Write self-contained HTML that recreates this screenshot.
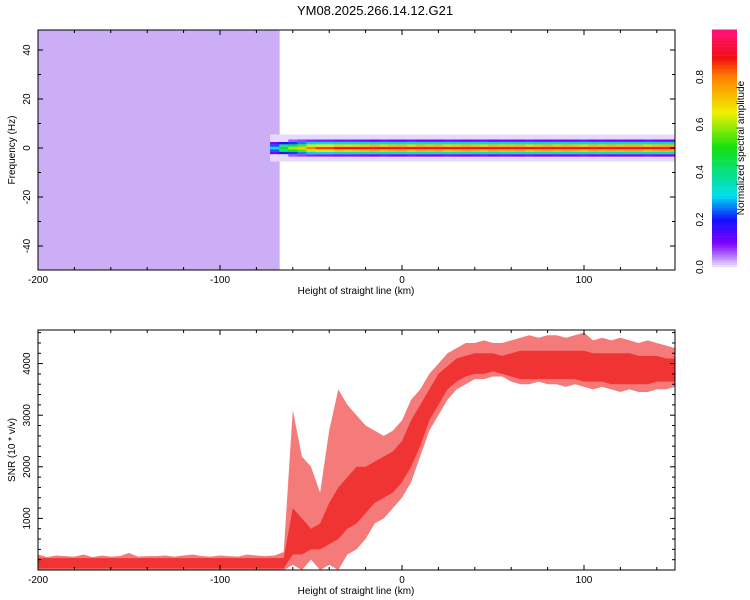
<!DOCTYPE html>
<html><head><meta charset="utf-8"><style>
body{margin:0;background:#fff;}
svg{display:block;font-family:"Liberation Sans",sans-serif;}
</style></head><body>
<svg id="c" width="750" height="600" xmlns="http://www.w3.org/2000/svg">
<text x="375" y="15" font-size="13" text-anchor="middle">YM08.2025.266.14.12.G21</text>
<g id="spec"></g>
<g id="snr"></g>
<g id="cbar"></g>
<g id="axes"></g>
</svg>
<script>
// ---- data ----
const xStart = -200, xStep = 5;
const snrHigh = [300,250,280,270,260,300,250,280,260,270,330,260,270,270,280,260,280,300,270,260,280,270,260,300,280,270,280,
 350,
 3100,2200,2000,1500,2700,3500,3200,3000,2800,2700,2600,2700,2900,3300,3500,3800,4000,4200,4300,4400,4400,4450,4400,4400,4450,4500,4550,4500,4550,4550,4500,4550,4600,4450,4500,4450,4500,4450,4400,4450,4400,4350,4300];
const snrLow = [0,0,0,0,0,0,0,0,0,0,0,0,0,0,0,0,0,0,0,0,0,0,0,0,0,0,0,0,
 100,0,200,0,100,0,300,400,600,900,1000,1200,1400,1700,2200,2700,3000,3300,3500,3600,3700,3700,3750,3750,3650,3600,3600,3650,3600,3600,3550,3600,3550,3500,3550,3500,3450,3500,3450,3450,3500,3500,3550];
const snrCoreHigh = [230,230,230,230,230,230,230,230,230,230,230,230,230,230,230,230,230,230,230,230,230,230,230,230,230,230,230,230,
 1200,1000,800,900,1300,1600,1800,2000,2000,2100,2200,2300,2500,2900,3200,3500,3800,3950,4100,4150,4200,4200,4200,4150,4200,4250,4250,4250,4250,4250,4250,4250,4250,4200,4200,4200,4200,4200,4150,4150,4150,4100,4100];
const snrCoreLow = [30,30,30,30,30,30,30,30,30,30,30,30,30,30,30,30,30,30,30,30,30,30,30,30,30,30,30,30,
 300,300,400,400,500,600,800,900,1100,1300,1400,1500,1700,2000,2400,2900,3200,3500,3650,3750,3800,3800,3850,3800,3750,3700,3700,3700,3700,3700,3700,3700,3650,3650,3650,3600,3600,3600,3600,3600,3650,3650,3650];
const noiseLevel = [1,1,1,1,1,1,1,1,1,1,1,1,1,1,1,1,1,1,1,1,1,1,1,1,1,1,1,0,0,0,0,0,0,0,0,0,0,0,0,0,0,0,0,0,0,0,0,0,0,0,0,0,0,0,0,0,0,0,0,0,0,0,0,0,0,0,0,0,0,0,0];
const bandPeak = [0,0,0,0,0,0,0,0,0,0,0,0,0,0,0,0,0,0,0,0,0,0,0,0,0,0,0.3,0.5,0.6,0.7,0.8,0.85,0.85,0.9,0.88,0.9,0.92,0.95,0.9,0.93,0.95,0.9,0.95,0.93,0.95,0.9,0.92,0.95,0.93,0.9,0.95,0.92,0.93,0.95,0.9,0.93,0.95,0.92,0.95,0.93,0.9,0.95,0.92,0.95,0.93,0.95,0.95,0.9,0.93,0.95,0.95];
const xTicks = [-200,-100,0,100];
const fTicks = [-40,-20,0,20,40];
const snrTicks = [1000,2000,3000,4000];
const cbTicks = [0.0,0.2,0.4,0.6,0.8];
// ---- scales ----
const NS="http://www.w3.org/2000/svg";
const L=38,R=675;
const sx = v => L + (v+200)*(R-L)/350;
const sf = f => 148 - f*2.45;
const ss = v => 570 - v*0.0516;
function el(tag, attrs, parent){const e=document.createElementNS(NS,tag);for(const k in attrs)e.setAttribute(k,attrs[k]);parent.appendChild(e);return e;}
const stops=[[0,[240,232,255]],[0.05,[176,112,255]],[0.1,[128,0,255]],[0.2,[16,16,255]],[0.3,[0,224,240]],[0.5,[16,224,16]],[0.65,[240,240,0]],[0.8,[255,128,0]],[0.88,[240,16,16]],[1,[255,16,128]]];
function cmap(v){v=Math.max(0,Math.min(1,v));for(let i=1;i<stops.length;i++){if(v<=stops[i][0]){const a=stops[i-1],b=stops[i],t=(v-a[0])/(b[0]-a[0]);const c=a[1].map((x,j)=>Math.round(x+(b[1][j]-x)*t));return `rgb(${c})`;}}return 'rgb(255,16,128)';}
// ---- spectrogram ----
const spec=document.getElementById('spec');
const cw=xStep*(R-L)/350;
for(let i=0;i<noiseLevel.length;i++){
  const x=xStart+i*xStep, px=sx(x)-cw/2, x0=Math.max(L,px), w=Math.min(R,px+cw)-x0;
  if(w<=0)continue;
  if(noiseLevel[i]>0){
    const r=el('rect',{x:x0,y:30,width:w+0.5,height:240,fill:'#ccaef6','fill-opacity':noiseLevel[i]},spec);
    
    
  }
  if(bandPeak[i]>0){
    for(let f=-5;f<=5;f++){
      const a=bandPeak[i]*Math.exp(-(f/2.0)*(f/2.0));
      const col = a<0.06 ? '#e6dafc' : cmap(a);
      const r=el('rect',{x:x0,y:sf(f+0.5),width:w+0.5,height:2.5,fill:col},spec);
      
      
    }
  }
}
// ---- SNR ----
const snr=document.getElementById('snr');
function band(hi,lo,op,name){
  let pts=[];
  for(let i=0;i<hi.length;i++)pts.push(sx(xStart+i*xStep)+','+ss(hi[i]));
  for(let i=lo.length-1;i>=0;i--)pts.push(sx(xStart+i*xStep)+','+ss(lo[i]));
  const p=el('polygon',{points:pts.join(' '),fill:'#f03434','fill-opacity':op},snr);
  
  
}
band(snrHigh,snrLow,0.65,'snr-envelope');
band(snrCoreHigh,snrCoreLow,1,'snr-series');
// ---- colorbar ----
const cb=document.getElementById('cbar');
for(let k=0;k<100;k++){
  const v=k/100;
  const r=el('rect',{x:712,y:267-(k+1)*2.375,width:25,height:2.6,fill:cmap(v+0.005)},cb);
  
  
}
cbTicks.forEach(t=>{const y=267-t*237.5;
  const tx=el('text',{x:703,y:y,'font-size':10,'text-anchor':'middle',transform:`rotate(-90 703 ${y})`},cb);tx.textContent=t.toFixed(1);
  });
const cbt=el('text',{x:744,y:148,'font-size':10,'text-anchor':'middle',transform:'rotate(-90 744 148)'},cb);cbt.textContent='Normalized spectral amplitude';

// ---- axes ----
const ax=document.getElementById('axes');
function frame(top,bot,name){
  const r=el('rect',{x:L,y:top,width:R-L,height:bot-top,fill:'none',stroke:'#000','stroke-width':1},ax);
  
  for(let v=-200;v<=150;v+=20){const x=sx(v),len=v%100===0?5:3;
    el('line',{x1:x,y1:bot,x2:x,y2:bot-len,stroke:'#000'},ax);el('line',{x1:x,y1:top,x2:x,y2:top+len,stroke:'#000'},ax);}
  xTicks.forEach(v=>{const t=el('text',{x:sx(v),y:bot+13,'font-size':10,'text-anchor':'middle'},ax);t.textContent=v;
    });
  const xt=el('text',{x:356,y:bot+24,'font-size':10,'text-anchor':'middle'},ax);xt.textContent='Height of straight line (km)';
  
}
frame(30,270,'spectrogram-frame');
frame(330,570,'snr-frame');
for(let f=-40;f<=40;f+=10){const y=sf(f),len=f%20===0?5:3;el('line',{x1:L,y1:y,x2:L+len,y2:y,stroke:'#000'},ax);el('line',{x1:R,y1:y,x2:R-len,y2:y,stroke:'#000'},ax);}
fTicks.forEach(f=>{const y=sf(f);const t=el('text',{x:30,y:y,'font-size':10,'text-anchor':'middle',transform:`rotate(-90 30 ${y})`},ax);t.textContent=f;
  });
const yt=el('text',{x:15,y:150,'font-size':10,'text-anchor':'middle',transform:'rotate(-90 15 150)'},ax);yt.textContent='Frequency (Hz)';

for(let v=200;v<=4600;v+=200){const y=ss(v),len=v%1000===0?5:3;el('line',{x1:L,y1:y,x2:L+len,y2:y,stroke:'#000'},ax);el('line',{x1:R,y1:y,x2:R-len,y2:y,stroke:'#000'},ax);}
snrTicks.forEach(v=>{const y=ss(v);const t=el('text',{x:30,y:y,'font-size':10,'text-anchor':'middle',transform:`rotate(-90 30 ${y})`},ax);t.textContent=v;
  });
const st=el('text',{x:15,y:450,'font-size':10,'text-anchor':'middle',transform:'rotate(-90 15 450)'},ax);st.textContent='SNR (10 * v/v)';

</script>
</body></html>
